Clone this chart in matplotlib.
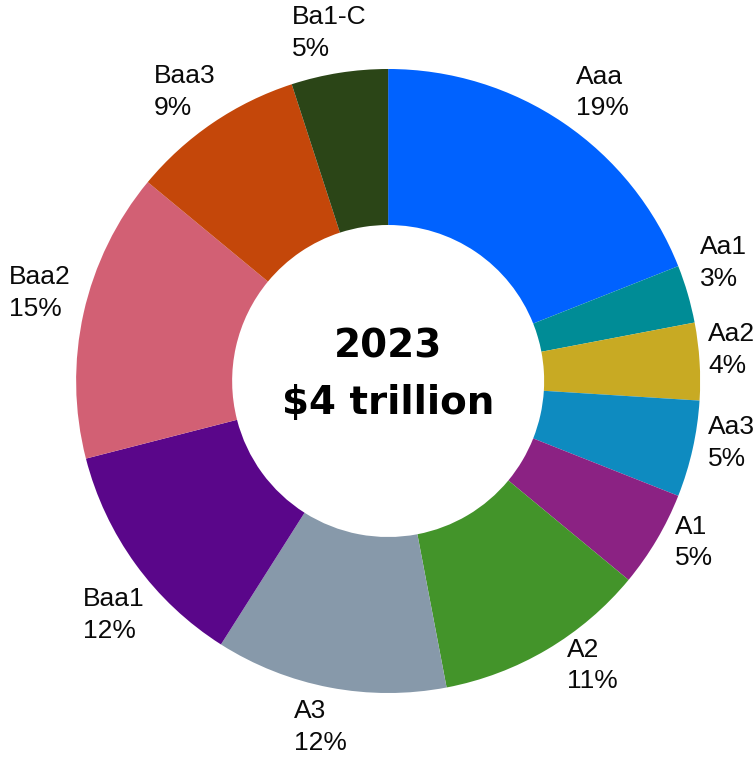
import numpy as np
import matplotlib.pyplot as plt

# rating mix of the 2023 total
ratings = ['Aaa', 'Aa1', 'Aa2', 'Aa3', 'A1', 'A2', 'A3', 'Baa1', 'Baa2', 'Baa3', 'Ba1-C']
shares = [19, 3, 4, 5, 5, 11, 12, 12, 15, 9, 5]
colors = ['#0062FF', '#008C96', '#C8AA23', '#0E8BC0', '#8B2283', '#43942A',
          '#8799AA', '#5A068A', '#D26074', '#C4470A', '#2B4517']
center_year = '2023'
center_total = '$4 trillion'

# label placement: (radius, angle nudge in degrees) per wedge
label_pos = {
    'Aaa': (1.143, -2.7), 'Aa1': (1.135, 2.7), 'Aa2': (1.105, 1.0),
    'Aa3': (1.119, 1.9), 'A1': (1.112, 2.3), 'A2': (1.131, 4.8),
    'A3': (1.14, -0.2), 'Baa1': (1.163, 4.8), 'Baa2': (1.15, -1.1),
    'Baa3': (1.124, 1.2), 'Ba1-C': (1.122, 0.7),
}

fig = plt.figure(figsize=(7.56, 7.62), dpi=100)
ax = fig.add_axes([0, 0, 1, 1])

wedges, _ = ax.pie(
    shares,
    colors=colors,
    startangle=90,
    counterclock=False,
    radius=1.0,
    wedgeprops=dict(width=0.5, edgecolor='none', linewidth=0),
)

for w, name, s in zip(wedges, ratings, shares):
    r, nudge = label_pos[name]
    mid = np.deg2rad((w.theta1 + w.theta2) / 2 + nudge)
    ax.text(r * np.cos(mid), r * np.sin(mid) + 0.01, f'{name}\n{s}%',
            ha='center', va='center', multialignment='left',
            fontsize=19, family='Liberation Sans', linespacing=1.4,
            color='#0a0a0a')

ax.text(0, 0.02, f'{center_year}\n{center_total}', ha='center', va='center',
        fontsize=28, fontweight='bold', family='DejaVu Sans', linespacing=1.6,
        color='black')

ax.set_xlim(-1.244, 1.179)
ax.set_ylim(-1.221, 1.221)
ax.set_aspect('equal')
ax.axis('off')

fig.savefig('out.png', dpi=100, facecolor='white')
